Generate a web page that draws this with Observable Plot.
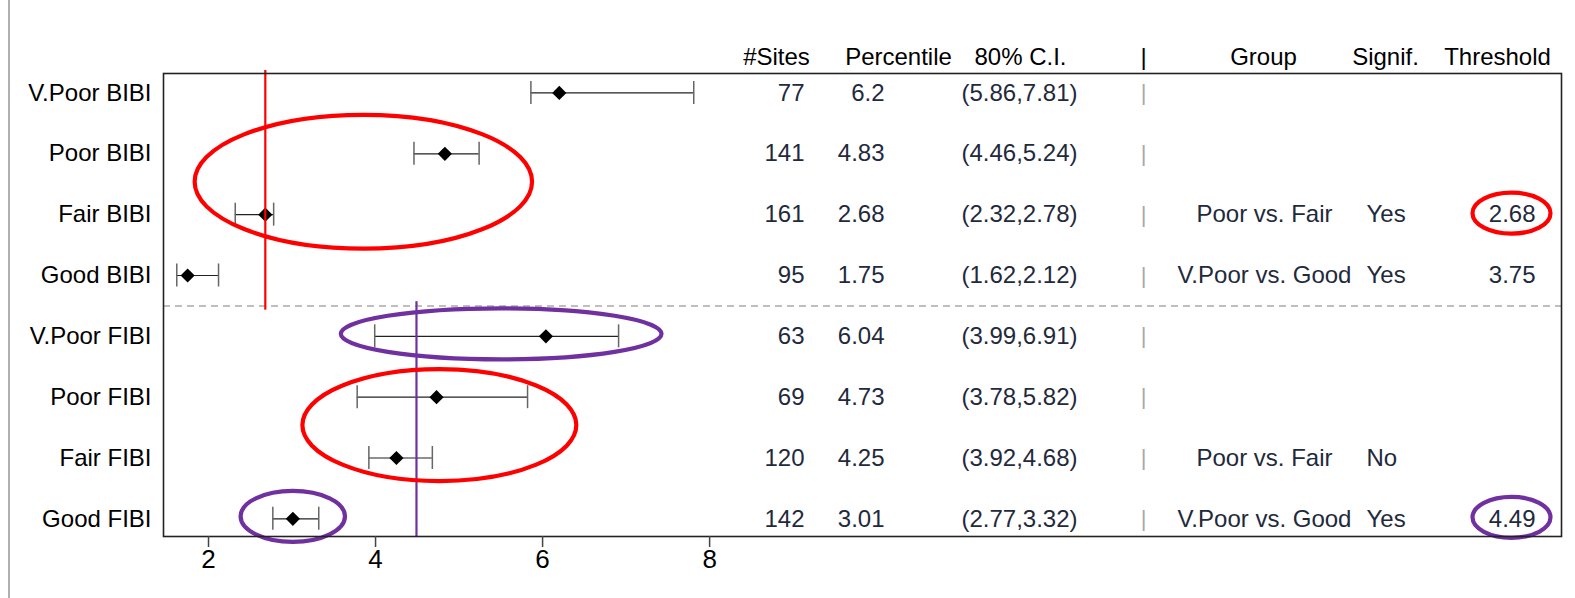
<!DOCTYPE html>
<html>
<head>
<meta charset="utf-8">
<script src="https://cdn.jsdelivr.net/npm/d3@7"></script>
<script src="https://cdn.jsdelivr.net/npm/@observablehq/plot@0.6"></script>
<style>
  html, body { margin: 0; padding: 0; background: #fff; }
  #wrap { position: relative; width: 1575px; height: 598px; }
  #edge { position: absolute; left: 8px; top: 0; width: 2px; height: 598px; background: #b0b0b0; }
</style>
</head>
<body>
<div id="wrap"><div id="edge"></div></div>
<script>
// ---- data ----
const categories = ["V.Poor BIBI", "Poor BIBI", "Fair BIBI", "Good BIBI", "V.Poor FIBI", "Poor FIBI", "Fair FIBI", "Good FIBI"];
const sites = [77, 141, 161, 95, 63, 69, 120, 142];
const percentile = [6.2, 4.83, 2.68, 1.75, 6.04, 4.73, 4.25, 3.01];
const ciLow = [5.86, 4.46, 2.32, 1.62, 3.99, 3.78, 3.92, 2.77];
const ciHigh = [7.81, 5.24, 2.78, 2.12, 6.91, 5.82, 4.68, 3.32];
const groupLabel = ["", "", "Poor vs. Fair", "V.Poor vs. Good", "", "", "Poor vs. Fair", "V.Poor vs. Good"];
const signif = ["", "", "Yes", "Yes", "", "", "No", "Yes"];
const thresholdLabel = ["", "", "2.68", "3.75", "", "", "", "4.49"];
const headers = ["#Sites", "Percentile", "80% C.I.", "|", "Group", "Signif.", "Threshold"];
const xTicks = [2, 4, 6, 8];
const bibiThreshold = 2.68;
const fibiThreshold = 4.49;
// highlighted groups: value range and rows enclosed
const highlights = [
  {from: "Poor BIBI", to: "Fair BIBI", lo: 1.84, hi: 5.88, color: "red"},
  {from: "V.Poor FIBI", to: "V.Poor FIBI", lo: 3.59, hi: 7.43, color: "purple"},
  {from: "Poor FIBI", to: "Fair FIBI", lo: 3.13, hi: 6.41, color: "red"},
  {from: "Good FIBI", to: "Good FIBI", lo: 2.39, hi: 3.64, color: "purple"}
];
const thresholdHighlights = [
  {row: "Fair BIBI", color: "red"},
  {row: "Good FIBI", color: "purple"}
];

// ---- layout / styles ----
const palette = {red: "#ff0000", purple: "#7030a0"};
const rowPad = {"Poor BIBI": 0.6}; // vertical padding (rows) of ellipses
const defaultPad = 0.42;
const W = 1575, H = 598;
const M = {top: 73, right: 14, bottom: 62, left: 163};
const xDomain = [1.461, 18.2];
const yDomain = [0.68, 8.29];
const dataColor = "#1f2a3c";
// dx from the left frame edge, per header / column
const headLayout = [
  {dx: 613, anchor: "middle"},
  {dx: 735, anchor: "middle"},
  {dx: 857, anchor: "middle"},
  {dx: 980, anchor: "middle"},
  {dx: 1100, anchor: "middle"},
  {dx: 1222, anchor: "middle"},
  {dx: 1334, anchor: "middle"}
];
const colLayout = {
  sites: {dx: 641, anchor: "end"},
  pct: {dx: 721, anchor: "end"},
  ci: {dx: 856, anchor: "middle"},
  bar: {dx: 980, anchor: "middle"},
  group: {dx: 1101, anchor: "middle"},
  signif: {dx: 1203, anchor: "start"},
  threshold: {dx: 1372, anchor: "end"}
};

const rows = categories.map((c, i) => ({
  row: i + 1, name: c, sites: sites[i], pct: percentile[i], lo: ciLow[i], hi: ciHigh[i],
  ci: `(${ciLow[i]},${ciHigh[i]})`, group: groupLabel[i], signif: signif[i], threshold: thresholdLabel[i],
  bar: "|"
}));
const rowOf = name => categories.indexOf(name) + 1;
const split = rowOf("Good BIBI") + 0.5;

function colText(field, opts = {}) {
  const L = colLayout[field];
  return Plot.text(rows.filter(d => d[field] !== ""), {
    y: "row", text: d => String(d[field]), frameAnchor: "left", dx: L.dx, textAnchor: L.anchor,
    fill: dataColor, fontSize: 24, ...opts
  });
}

function ellipseMark(index, scales, values, dims) {
  const g = d3.create("svg:g").attr("fill", "none").attr("stroke-width", 4.2);
  for (const h of highlights) {
    const r0 = rowOf(h.from), r1 = rowOf(h.to);
    const pad = rowPad[h.from] ?? defaultPad;
    const x0 = scales.x(h.lo), x1 = scales.x(h.hi);
    const yA = scales.y(r0 - pad), yB = scales.y(r1 + pad);
    g.append("ellipse")
      .attr("cx", (x0 + x1) / 2).attr("cy", (yA + yB) / 2 - 2)
      .attr("rx", Math.abs(x1 - x0) / 2).attr("ry", Math.abs(yB - yA) / 2)
      .attr("stroke", palette[h.color]);
  }
  for (const t of thresholdHighlights) {
    const cx = dims.marginLeft + colLayout.threshold.dx - 23.5;
    g.append("ellipse")
      .attr("cx", cx).attr("cy", scales.y(rowOf(t.row)) - 1)
      .attr("rx", 39).attr("ry", 20.5)
      .attr("stroke", palette[t.color]);
  }
  return g.node();
}

const marks = [
  Plot.ruleY([split], {stroke: "#aaaaaa", strokeWidth: 1.5, strokeDasharray: "7,5"}),
  // CI lines and caps
  Plot.ruleY(rows, {y: "row", x1: "lo", x2: "hi", stroke: "#222", strokeWidth: 1.2}),
  Plot.ruleX(rows, {x: "lo", y1: "row", y2: "row", insetTop: -11.5, insetBottom: -11.5, stroke: "#666", strokeWidth: 1.5}),
  Plot.ruleX(rows, {x: "hi", y1: "row", y2: "row", insetTop: -11.5, insetBottom: -11.5, stroke: "#666", strokeWidth: 1.5}),
  Plot.dot(rows, {x: "pct", y: "row", symbol: "diamond2", r: 6.4, fill: "black", stroke: "none"}),
  // threshold lines
  Plot.ruleX([bibiThreshold], {y1: yDomain[0] - 0.05, y2: split + 0.07, stroke: palette.red, strokeWidth: 2.2, clip: false}),
  Plot.ruleX([fibiThreshold], {y1: split - 0.07, y2: yDomain[1], stroke: palette.purple, strokeWidth: 2.2}),
  ellipseMark,
  Plot.frame({stroke: "#222", strokeWidth: 1.6}),
  Plot.axisX(xTicks, {tickSize: 11, tickPadding: 2, stroke: "#444", strokeWidth: 1.5, fill: "black", fontSize: 26, label: null}),
  Plot.axisY(d3.range(1, categories.length + 1), {tickSize: 0, tickPadding: 12, tickFormat: i => categories[i - 1], fill: "black", fontSize: 24, label: null}),
  colText("sites"), colText("pct"), colText("ci"),
  colText("bar", {fill: "#a8a8a8", fontSize: 22}),
  colText("group"), colText("signif"), colText("threshold"),
  ...headers.map((h, i) => Plot.text([h], {
    text: d => d, frameAnchor: "top-left", dx: headLayout[i].dx, dy: -26,
    textAnchor: headLayout[i].anchor, fill: "black", fontSize: 24
  }))
];

const chart = Plot.plot({
  width: W, height: H,
  marginTop: M.top, marginRight: M.right, marginBottom: M.bottom, marginLeft: M.left,
  x: {domain: xDomain},
  y: {domain: yDomain, reverse: true},
  style: {fontFamily: "'Liberation Sans', Arial, sans-serif", fontSize: "24px", background: "white", overflow: "visible"},
  marks
});
document.getElementById("wrap").prepend(chart);
</script>
</body>
</html>
